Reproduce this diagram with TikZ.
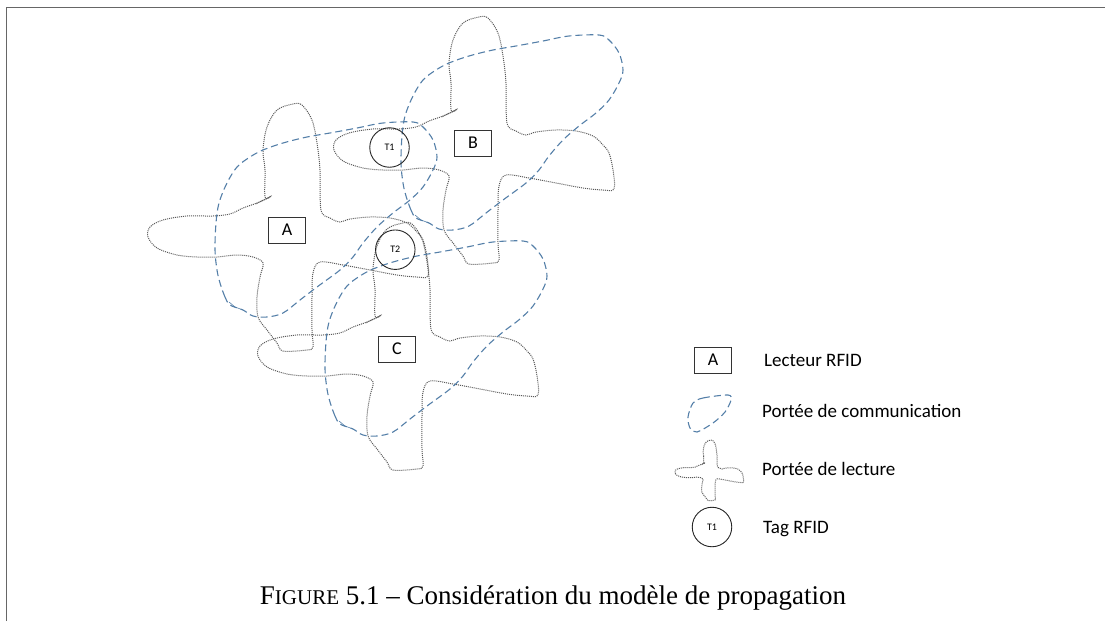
\documentclass[tikz,border=0pt]{standalone}
\usepackage{fontspec}
\newfontfamily\calib{Carlito}
\newfontfamily\capfont{Liberation Serif}
\definecolor{bleucomm}{RGB}{84,127,168}

% portee de lecture (croix), coordonnees relatives au lecteur
\def\croixlecture[#1](#2){
	\draw[shift={(#2)}, #1] plot[smooth cycle, tension=0.55] coordinates {(-22,-33) (-22,-60) (-24,-80) (-20,-103) (-10,-120) (6,-126) (15,-125) (25,-110) (30,-87) (33,-60) (34,-20) (43,-12) (53,-8) (63,-11) (83,-13) (103,-12) (120,-7) (130,2) (136,10) (140,27) (141,46) (130,47) (110,45) (83,40) (56,35) (33,32) (26,43) (25,67) (25,100) (26,117) (20,120) (-4,121) (-10,113) (-20,100) (-29,87) (-30,67) (-27,47) (-24,33) (-34,27) (-50,25) (-70,27) (-90,27) (-110,25) (-130,18) (-139,7) (-137,-3) (-124,-10) (-100,-14) (-74,-14) (-57,-16) (-44,-22) (-30,-27) (-17,-33)};
	\draw[shift={(#2)}, #1, solid, line width=0.5pt] (-31,-26) -- (-24,-30) -- (-27,-28) -- (-16,-34);
}
% portee de communication (tirets)
\def\bullecomm[#1](#2){
	\draw[shift={(#2)}, #1] plot[smooth cycle, tension=0.55] coordinates {(-57,75) (-62,67) (-67,53) (-70,40) (-72,20) (-71,-7) (-68,-27) (-60,-47) (-50,-63) (-37,-73) (-24,-80) (-4,-87) (20,-93) (43,-97) (70,-102) (96,-107) (126,-108) (136,-103) (146,-90) (150,-73) (146,-60) (136,-43) (123,-30) (106,-17) (90,-3) (76,13) (66,27) (53,40) (30,57) (13,70) (-4,83) (-20,87) (-34,86) (-44,80)};
	\draw[shift={(#2)}, #1, solid, line width=0.6pt] (-58,72) -- (-52,77) -- (-44,80);
}

\tikzset{
	lecteur/.style={draw=black!80, line width=0.9pt, minimum width=37pt, minimum height=26pt, inner sep=0pt, font=\calib\fontsize{18}{18}\selectfont},
	tag/.style={draw=black!85, circle, line width=0.9pt, minimum size=39.5pt, inner sep=0pt, font=\calib\fontsize{10}{10}\selectfont},
	comm/.style={color=bleucomm, line width=1.1pt, dash pattern=on 7pt off 4pt},
	lecture/.style={color=black!65, line width=1pt, densely dotted},
	legende/.style={anchor=base west, inner sep=0pt, font=\calib\fontsize{19}{19}\selectfont},
}

\begin{document}
\begin{tikzpicture}[x=1pt, y=-1pt]
	%%%%% START %%%%%
	\useasboundingbox (0,0) rectangle (1105,621);
	
	\draw[color=black!60, line width=1.3pt] (6.5,621) -- (6.5,7.5) -- (1105,7.5);
	
	% portees de lecture
	\croixlecture[lecture](287,230)
	\croixlecture[lecture](473,143)
	\croixlecture[lecture](397,349)
	
	% portees de communication
	\bullecomm[comm](287,230)
	\bullecomm[comm](473,143)
	\bullecomm[comm](397,349)
	
	% lecteurs
	\node[lecteur] (lecA) at (287,230) {A};
	\node[lecteur] (lecB) at (473,143) {B};
	\node[lecteur] (lecC) at (397,349) {C};
	
	% tags
	\node[tag] (tagT1) at (389.5,147.5) {T1};
	\node[tag] (tagT2) at (395.3,249.7) {T2};
	
	% legende
	\node[lecteur] (legLec) at (713,360) {A};
	\node[legende] (txtLec) at (764,366) {Lecteur RFID};
	
	\draw[comm] plot[smooth cycle, tension=0.5] coordinates {(693,403) (703,398) (728,395) (731,400) (725,412) (713,423) (697,432) (690,428) (688,417)};
	\node[legende] (txtComm) at (762,417) {Portée de communication};
	
	\croixlecture[lecture, scale=0.245](709,471)
	\node[legende] (txtLect) at (762,475) {Portée de lecture};
	
	\node[tag] (legTag) at (712,527) {T1};
	\node[legende] (txtTag) at (763,533) {Tag RFID};
	
	\node[anchor=base, inner sep=0pt, font=\capfont\fontsize{27}{32}\selectfont] (legFig) at (553,604) {F{\fontsize{21}{26}\selectfont IGURE} 5.1 – Considération du modèle de propagation};
	
	%%%%% END %%%%%
\end{tikzpicture}
\end{document}
